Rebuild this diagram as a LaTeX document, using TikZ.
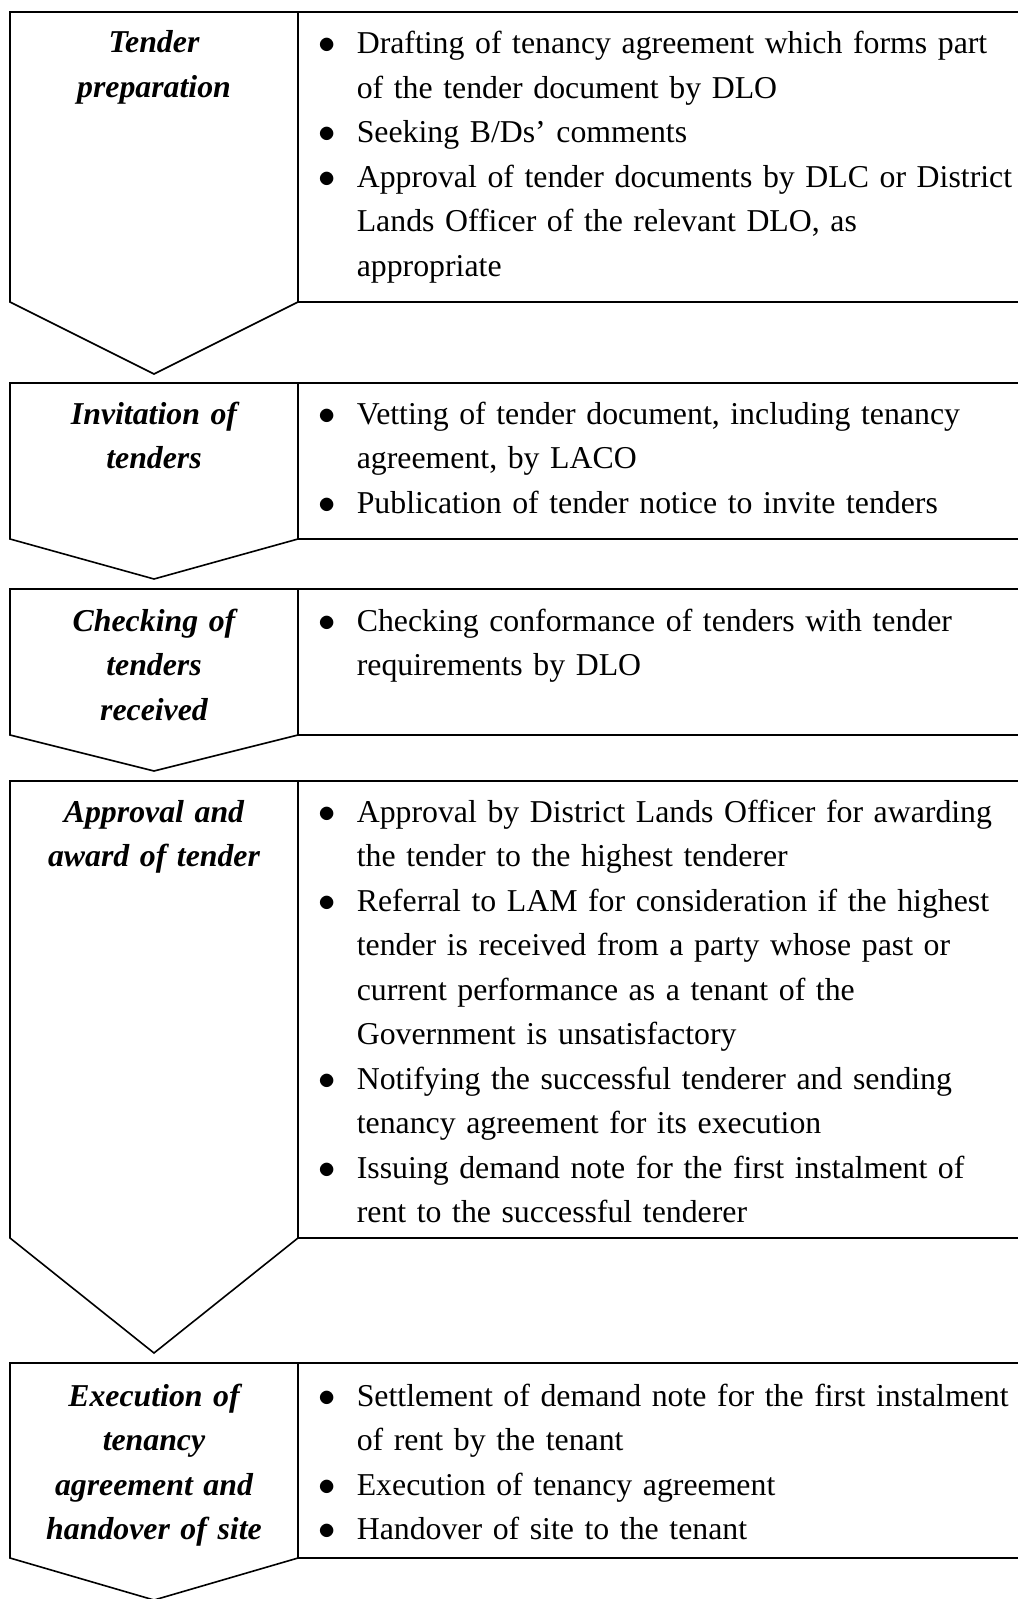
\documentclass[tikz,border=0pt]{standalone}
\usepackage{fontspec}
\setmainfont{Liberation Serif}
\newcommand{\itm}{\makebox[18.5pt][l]{\hspace{-0.6pt}$\bullet$}}
\newcommand{\cnt}{\hspace*{18.5pt}}

\begin{document}
\begin{tikzpicture}[x=0.5pt,y=-0.5pt,line width=0.8pt,
    stagetitle/.style={anchor=base, inner sep=0pt, text width=144pt, align=center,
      font=\fontsize{15.9pt}{22.25pt}\selectfont\bfseries\itshape},
    stageitems/.style={anchor=base west, inner sep=0pt, text width=360pt, align=left,
      font=\fontsize{15.9pt}{22.25pt}\selectfont}]
  \useasboundingbox (0,0) rectangle (1017,1599);

  % frames: top / side bottom / tip
  \foreach \T/\B/\P in {12/302/374, 383/539/579, 589/735/771, 781/1238/1353, 1363/1558/1600}{
    \draw (298,\T) -- (10,\T) -- (10,\B) -- (154,\P) -- (298,\B) -- cycle;
    \draw (298,\T) -- (1030,\T);
    \draw (298,\B) -- (1030,\B);
  }

  % stage titles
  \node[stagetitle] (t1) at (154,53)   {Tender\\preparation};
  \node[stagetitle] (t2) at (154,424)  {Invitation of\\tenders};
  \node[stagetitle] (t3) at (154,631)  {Checking of\\tenders\\received};
  \node[stagetitle] (t4) at (154,822)  {Approval and\\award of tender};
  \node[stagetitle] (t5) at (154,1406) {Execution of\\tenancy\\agreement and\\handover of site};

  % stage tasks
  \node[stageitems] (d1) at (319,54) {%
    \itm Drafting of tenancy agreement which forms part\\
    \cnt of the tender document by DLO\\
    \itm Seeking B/Ds’ comments\\
    \itm Approval of tender documents by DLC or District\\
    \cnt Lands Officer of the relevant DLO, as\\
    \cnt appropriate};
  \node[stageitems] (d2) at (319,424) {%
    \itm Vetting of tender document, including tenancy\\
    \cnt agreement, by LACO\\
    \itm Publication of tender notice to invite tenders};
  \node[stageitems] (d3) at (319,631) {%
    \itm Checking conformance of tenders with tender\\
    \cnt requirements by DLO};
  \node[stageitems] (d4) at (319,822) {%
    \itm Approval by District Lands Officer for awarding\\
    \cnt the tender to the highest tenderer\\
    \itm Referral to LAM for consideration if the highest\\
    \cnt tender is received from a party whose past or\\
    \cnt current performance as a tenant of the\\
    \cnt Government is unsatisfactory\\
    \itm Notifying the successful tenderer and sending\\
    \cnt tenancy agreement for its execution\\
    \itm Issuing demand note for the first instalment of\\
    \cnt rent to the successful tenderer};
  \node[stageitems] (d5) at (319,1406) {%
    \itm Settlement of demand note for the first instalment\\
    \cnt of rent by the tenant\\
    \itm Execution of tenancy agreement\\
    \itm Handover of site to the tenant};
\end{tikzpicture}
\end{document}
